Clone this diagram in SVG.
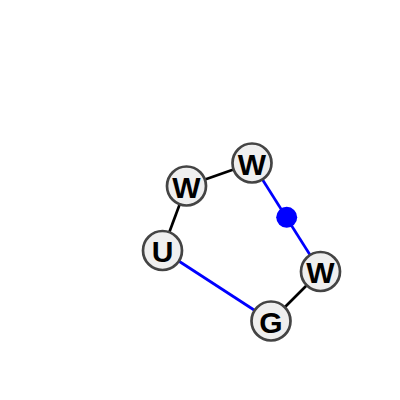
<svg xmlns="http://www.w3.org/2000/svg" width="400" height="400" viewBox="0 0 400 400">
<style>
.n circle{fill:#efefef;stroke:#444;stroke-width:2.7}
.n text{font-family:"Liberation Sans",Arial,sans-serif;font-weight:bold;font-size:30px;text-anchor:middle;dominant-baseline:central;fill:#000}
.k{stroke:#000;stroke-width:2.7}
.b{stroke:#0000ff;stroke-width:2.7}
</style>
<rect width="400" height="400" fill="#fff"/>
<g id="connectors">
<line class="k" x1="252" y1="163" x2="186.5" y2="186"/>
<line class="k" x1="186.5" y1="186" x2="162.5" y2="250.5"/>
<line class="b" x1="162.5" y1="250.5" x2="271" y2="321"/>
<line class="k" x1="271" y1="321" x2="320.5" y2="271.5"/>
<line class="b" x1="320.5" y1="271.5" x2="252" y2="163"/>
<circle cx="286.7" cy="217.3" r="10.5" fill="#0000ff"/>
</g>
<g id="n1" class="n"><circle cx="252" cy="163" r="19.5"/><text x="252" y="164">W</text></g>
<g id="n2" class="n"><circle cx="186.5" cy="186" r="19.5"/><text x="186.5" y="187">W</text></g>
<g id="n3" class="n"><circle cx="162.5" cy="250.5" r="19.5"/><text x="162.5" y="251.5">U</text></g>
<g id="n4" class="n"><circle cx="271" cy="321" r="19.5"/><text x="271" y="322">G</text></g>
<g id="n5" class="n"><circle cx="320.5" cy="271.5" r="19.5"/><text x="320.5" y="272.5">W</text></g>
</svg>
